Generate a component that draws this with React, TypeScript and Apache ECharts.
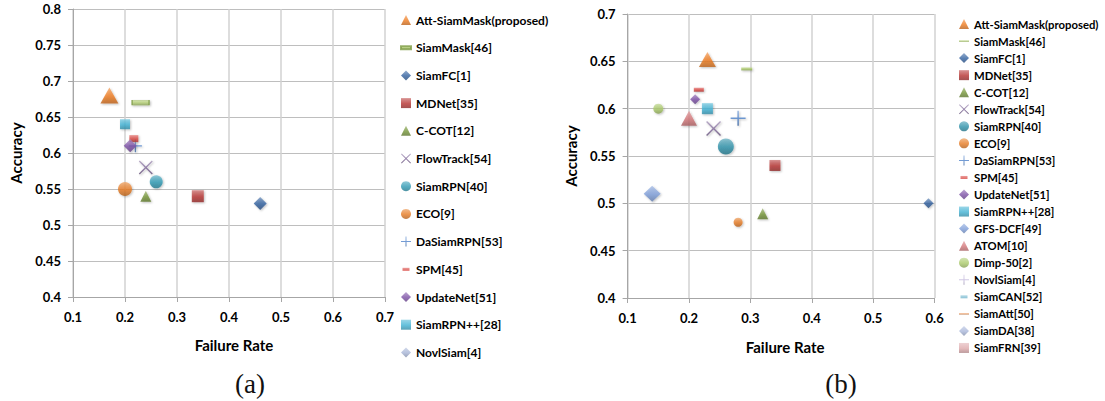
import React, { useEffect, useRef } from "react";
import * as echarts from "echarts";

// ---------- data: chart (a) ----------
const methodsA = [
  "Att-SiamMask(proposed)", "SiamMask[46]", "SiamFC[1]", "MDNet[35]", "C-COT[12]",
  "FlowTrack[54]", "SiamRPN[40]", "ECO[9]", "DaSiamRPN[53]", "SPM[45]",
  "UpdateNet[51]", "SiamRPN++[28]", "NovlSiam[4]",
];
const failureA = [0.17, 0.23, 0.46, 0.34, 0.24, 0.24, 0.26, 0.2, 0.22, 0.217, 0.21, 0.2, null];
const accuracyA = [0.68, 0.67, 0.53, 0.54, 0.54, 0.58, 0.56, 0.55, 0.61, 0.62, 0.61, 0.64, null];

// ---------- data: chart (b) ----------
const methodsB = [
  "Att-SiamMask(proposed)", "SiamMask[46]", "SiamFC[1]", "MDNet[35]", "C-COT[12]",
  "FlowTrack[54]", "SiamRPN[40]", "ECO[9]", "DaSiamRPN[53]", "SPM[45]",
  "UpdateNet[51]", "SiamRPN++[28]", "GFS-DCF[49]", "ATOM[10]", "Dimp-50[2]",
  "NovlSiam[4]", "SiamCAN[52]", "SiamAtt[50]", "SiamDA[38]", "SiamFRN[39]",
];
const failureB = [0.23, 0.294, 0.59, 0.34, 0.32, 0.24, 0.26, 0.28, 0.28, 0.216, 0.21, 0.23, 0.14, 0.2, 0.15, null, null, null, null, null];
const accuracyB = [0.652, 0.642, 0.5, 0.54, 0.489, 0.579, 0.56, 0.48, 0.59, 0.62, 0.61, 0.6, 0.51, 0.59, 0.6, null, null, null, null, null];

// ---------- axis ticks ----------
const xRangeA = [0.1, 0.7];
const yRangeA = [0.4, 0.8];
const xRangeB = [0.1, 0.6];
const yRangeB = [0.4, 0.7];
const xStep = 0.1;
const yStep = 0.05;

const xTitle = "Failure Rate";
const yTitle = "Accuracy";

// ---------- styles ----------
const PLUS = "path://M9,0H11V9H20V11H11V20H9V11H0V9H9Z";
const CROSS = "path://M1.4,0L10,8.6L18.6,0L20,1.4L11.4,10L20,18.6L18.6,20L10,11.4L1.4,20L0,18.6L8.6,10L0,1.4Z";
const DASH = "path://M0,0H20V6H0Z";
const DASH_SHORT = "path://M-3,-4M0,0H14V6H0ZM17,10";
const DASH_THIN = "path://M0,0H20V3H0Z";

type Mk = { symbol: string; color: string; size: number | number[]; icon: string; border?: string };

const styleA: Record<string, Mk> = {
  "Att-SiamMask(proposed)": { symbol: "triangle", color: "#EE7B1F", size: [18, 16], icon: "triangle" },
  "SiamMask[46]": { symbol: "rect", color: "#B2CE72", size: [17, 5], icon: DASH, border: "#7E9C45" },
  "SiamFC[1]": { symbol: "diamond", color: "#2F5F9E", size: [13, 13], icon: "diamond" },
  "MDNet[35]": { symbol: "rect", color: "#B5312F", size: [12, 12], icon: "rect" },
  "C-COT[12]": { symbol: "triangle", color: "#739436", size: [11, 11], icon: "triangle" },
  "FlowTrack[54]": { symbol: CROSS, color: "#7C6496", size: [14, 14], icon: CROSS },
  "SiamRPN[40]": { symbol: "circle", color: "#2C98B2", size: 13, icon: "circle" },
  "ECO[9]": { symbol: "circle", color: "#E67A22", size: 14, icon: "circle" },
  "DaSiamRPN[53]": { symbol: PLUS, color: "#4A7EC7", size: 13, icon: PLUS },
  "SPM[45]": { symbol: "rect", color: "#D8433E", size: [9, 7], icon: DASH_SHORT },
  "UpdateNet[51]": { symbol: "diamond", color: "#7A4EA4", size: [13, 13], icon: "diamond" },
  "SiamRPN++[28]": { symbol: "rect", color: "#3FB1D3", size: [10, 10], icon: "rect" },
  "NovlSiam[4]": { symbol: "diamond", color: "#A6B4D6", size: 10, icon: "diamond" },
};

const styleB: Record<string, Mk> = {
  "Att-SiamMask(proposed)": { symbol: "triangle", color: "#EE7B1F", size: [17, 15], icon: "triangle" },
  "SiamMask[46]": { symbol: "rect", color: "#A6C662", size: [11, 3], icon: DASH_THIN },
  "SiamFC[1]": { symbol: "diamond", color: "#2F5F9E", size: [10, 10], icon: "diamond" },
  "MDNet[35]": { symbol: "rect", color: "#B5312F", size: [11, 11], icon: "rect" },
  "C-COT[12]": { symbol: "triangle", color: "#739436", size: [11, 11], icon: "triangle" },
  "FlowTrack[54]": { symbol: CROSS, color: "#7C6496", size: [15, 15], icon: CROSS },
  "SiamRPN[40]": { symbol: "circle", color: "#2A8FA8", size: 16, icon: "circle" },
  "ECO[9]": { symbol: "circle", color: "#E67A22", size: 9, icon: "circle" },
  "DaSiamRPN[53]": { symbol: PLUS, color: "#4A7EC7", size: 15, icon: PLUS },
  "SPM[45]": { symbol: "rect", color: "#D8433E", size: [10, 4], icon: DASH_SHORT },
  "UpdateNet[51]": { symbol: "diamond", color: "#7A4EA4", size: [10, 10], icon: "diamond" },
  "SiamRPN++[28]": { symbol: "rect", color: "#3FB1D3", size: [11, 11], icon: "rect" },
  "GFS-DCF[49]": { symbol: "diamond", color: "#7C9CD8", size: [17, 16], icon: "diamond" },
  "ATOM[10]": { symbol: "triangle", color: "#D47679", size: [16, 15], icon: "triangle" },
  "Dimp-50[2]": { symbol: "circle", color: "#A9C968", size: 10, icon: "circle" },
  "NovlSiam[4]": { symbol: PLUS, color: "#C2B7DC", size: 10, icon: PLUS },
  "SiamCAN[52]": { symbol: "rect", color: "#73B6CE", size: [8, 3], icon: DASH_SHORT },
  "SiamAtt[50]": { symbol: "rect", color: "#E8955A", size: [10, 2], icon: DASH_THIN },
  "SiamDA[38]": { symbol: "diamond", color: "#A9B7DA", size: 10, icon: "diamond" },
  "SiamFRN[39]": { symbol: "rect", color: "#DDA8AA", size: 10, icon: "rect" },
};

const FONT = "Lato, 'Open Sans', sans-serif";

function tint(hex: string, t: number) {
  const n = parseInt(hex.slice(1), 16);
  const target = t > 0 ? 255 : 0;
  const a = Math.abs(t);
  const c = [(n >> 16) & 255, (n >> 8) & 255, n & 255].map((v) => Math.round(v + (target - v) * a));
  return `rgb(${c[0]},${c[1]},${c[2]})`;
}

function fillOf(hex: string) {
  return new echarts.graphic.LinearGradient(0, 0, 0, 1, [
    { offset: 0, color: tint(hex, 0.35) },
    { offset: 0.55, color: hex },
    { offset: 1, color: tint(hex, -0.22) },
  ]);
}

type Layout = {
  grid: { left: number; top: number; width: number; height: number };
  legend: { left: number; top: number; itemGap: number; fontSize: number };
  yNameGap: number;
  xNameGap: number;
  xNamePad: number;
  caption: { text: string; x: number; y: number };
};

function buildOption(
  names: string[], xs: (number | null)[], ys: (number | null)[],
  styles: Record<string, Mk>, xr: number[], yr: number[], L: Layout
) {
  const axisColor = "#A6A6A6";
  const labelStyle = { fontFamily: FONT, fontWeight: "bold" as const, fontSize: 13, color: "#000" };
  const nameStyle = { fontFamily: FONT, fontWeight: "bold" as const, fontSize: 15, color: "#000" };
  return {
    animation: false,
    grid: { ...L.grid, containLabel: false },
    legend: {
      orient: "vertical",
      left: L.legend.left,
      top: L.legend.top,
      itemGap: L.legend.itemGap,
      itemWidth: 10,
      itemHeight: 10,
      selectedMode: false,
      textStyle: { fontFamily: FONT, fontWeight: "bold", fontSize: L.legend.fontSize, color: "#000", lineHeight: 14 },
      data: names.map((n) => ({ name: n, icon: styles[n].icon })),
    },
    xAxis: {
      type: "value",
      min: xr[0], max: xr[1], interval: xStep,
      name: xTitle, nameLocation: "middle", nameGap: L.xNameGap,
      nameTextStyle: { ...nameStyle, padding: [0, 0, 0, L.xNamePad] },
      axisLine: { show: true, lineStyle: { color: axisColor } },
      axisTick: { show: true, length: 5, lineStyle: { color: axisColor } },
      axisLabel: { ...labelStyle, margin: 13 },
      splitLine: { show: true, lineStyle: { color: "#D2D2D2", width: 1.5 } },
    },
    yAxis: {
      type: "value",
      min: yr[0], max: yr[1], interval: yStep,
      name: yTitle, nameLocation: "middle", nameGap: L.yNameGap,
      nameTextStyle: nameStyle,
      axisLine: { show: true, lineStyle: { color: axisColor } },
      axisTick: { show: true, length: 5, lineStyle: { color: axisColor } },
      axisLabel: { ...labelStyle, margin: 12 },
      splitLine: { show: true, lineStyle: { color: "#BEBEBE", width: 1 } },
    },
    graphic: [
      {
        type: "text",
        x: L.caption.x, y: L.caption.y,
        style: {
          text: L.caption.text, fontFamily: "'Liberation Serif', serif", fontSize: 27,
          fill: "#111", align: "center", verticalAlign: "middle",
        },
      },
    ],
    series: names.map((n, i) => {
      const st = styles[n];
      return {
        name: n,
        type: "scatter",
        symbol: st.symbol,
        symbolSize: st.size,
        itemStyle: {
          color: fillOf(st.color),
          borderColor: st.border || "transparent",
          borderWidth: st.border ? 0.8 : 0,
          shadowBlur: 2,
          shadowColor: "rgba(0,0,0,0.3)",
          shadowOffsetX: 1,
          shadowOffsetY: 1,
        },
        emphasis: { disabled: true },
        data: xs[i] == null ? [] : [[xs[i], ys[i]]],
      };
    }),
  };
}

const layoutA: Layout = {
  grid: { left: 73, top: 9, width: 312, height: 288 },
  legend: { left: 395, top: 8, itemGap: 13.7, fontSize: 12 },
  yNameGap: 50,
  xNameGap: 40,
  xNamePad: 10,
  caption: { text: "(a)", x: 250, y: 384 },
};

const layoutB: Layout = {
  grid: { left: 75.6, top: 14, width: 307, height: 284 },
  legend: { left: 402, top: 12, itemGap: 3.05, fontSize: 11.3 },
  yNameGap: 48,
  xNameGap: 41,
  xNamePad: 8,
  caption: { text: "(b)", x: 289, y: 384 },
};

function Chart({ option, style }: { option: any; style: React.CSSProperties }) {
  const ref = useRef<HTMLDivElement>(null);
  useEffect(() => {
    if (!ref.current) return;
    const chart = echarts.init(ref.current, undefined, { renderer: "svg" });
    chart.setOption(option);
    return () => chart.dispose();
  }, [option]);
  return <div ref={ref} style={style} />;
}

const optionA = buildOption(methodsA, failureA, accuracyA, styleA, xRangeA, yRangeA, layoutA);
const optionB = buildOption(methodsB, failureB, accuracyB, styleB, xRangeB, yRangeB, layoutB);

export default function App() {
  return (
    <div style={{ position: "absolute", left: 0, top: 0, width: 1105, height: 401, background: "#fff", overflow: "hidden" }}>
      <Chart option={optionA} style={{ position: "absolute", left: 0, top: 0, width: 552, height: 401 }} />
      <Chart option={optionB} style={{ position: "absolute", left: 552, top: 0, width: 553, height: 401 }} />
    </div>
  );
}
